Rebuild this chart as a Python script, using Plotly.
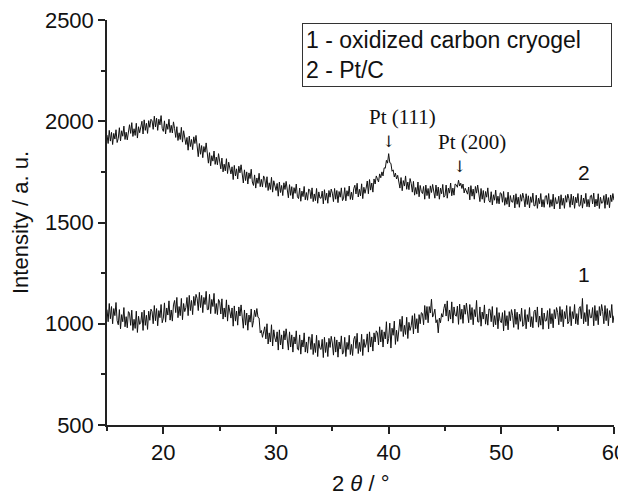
import plotly.graph_objects as go

# 2θ scan: 15.0 .. 60.0 in 0.1° steps
theta_start = 15.0
theta_step = 0.1

# Curve 2 - Pt/C (rows of 1 degree)
pt_c = [
    1932, 1890, 1955, 1902, 1945, 1885, 1940, 1912, 1958, 1895,  # 15
    1916, 1968, 1903, 1953, 1926, 1976, 1910, 1946, 1908, 1963,  # 16
    1983, 1940, 1993, 1925, 1963, 1930, 1990, 1917, 1973, 1943,  # 17
    1965, 2000, 1937, 2007, 1955, 1990, 1940, 2003, 1970, 2010,  # 18
    2002, 1960, 2025, 1972, 2015, 1955, 2010, 1982, 2028, 1965,  # 19
    1950, 2002, 1937, 1987, 1960, 2010, 1944, 1980, 1942, 1997,  # 20
    1963, 1920, 1973, 1905, 1943, 1910, 1970, 1897, 1953, 1923,  # 21
    1885, 1920, 1857, 1927, 1875, 1910, 1860, 1923, 1890, 1930,  # 22
    1867, 1825, 1890, 1837, 1880, 1820, 1875, 1847, 1893, 1830,  # 23
    1793, 1845, 1780, 1830, 1803, 1853, 1787, 1823, 1785, 1840,  # 24
    1808, 1765, 1818, 1750, 1788, 1755, 1815, 1742, 1798, 1768,  # 25
    1740, 1775, 1712, 1782, 1730, 1765, 1715, 1778, 1745, 1785,  # 26
    1737, 1695, 1760, 1707, 1750, 1690, 1745, 1717, 1763, 1700,  # 27
    1683, 1735, 1670, 1720, 1693, 1743, 1677, 1713, 1675, 1730,  # 28
    1716, 1673, 1726, 1658, 1696, 1663, 1723, 1650, 1706, 1676,  # 29
    1658, 1693, 1630, 1700, 1648, 1683, 1633, 1696, 1663, 1703,  # 30
    1664, 1622, 1687, 1634, 1677, 1617, 1672, 1644, 1690, 1627,  # 31
    1618, 1670, 1605, 1655, 1628, 1678, 1612, 1648, 1610, 1665,  # 32
    1661, 1618, 1671, 1603, 1641, 1608, 1668, 1595, 1651, 1621,  # 33
    1620, 1655, 1592, 1662, 1610, 1645, 1595, 1658, 1625, 1665,  # 34
    1645, 1603, 1668, 1615, 1658, 1598, 1653, 1625, 1671, 1608,  # 35
    1620, 1672, 1607, 1657, 1630, 1680, 1614, 1650, 1612, 1667,  # 36
    1684, 1641, 1694, 1626, 1664, 1631, 1691, 1618, 1674, 1644,  # 37
    1670, 1705, 1642, 1712, 1660, 1695, 1650, 1715, 1690, 1730,  # 38
    1716, 1700, 1740, 1721, 1750, 1730, 1770, 1768, 1807, 1793,  # 39
    1840, 1795, 1792, 1753, 1760, 1725, 1744, 1715, 1733, 1704,  # 40
    1670, 1722, 1657, 1707, 1680, 1730, 1664, 1700, 1662, 1717,  # 41
    1693, 1650, 1703, 1635, 1673, 1640, 1700, 1627, 1683, 1653,  # 42
    1643, 1678, 1615, 1685, 1633, 1668, 1618, 1681, 1648, 1688,  # 43
    1662, 1620, 1685, 1632, 1675, 1615, 1670, 1642, 1688, 1625,  # 44
    1633, 1685, 1620, 1670, 1645, 1695, 1632, 1670, 1635, 1690,  # 45
    1686, 1674, 1709, 1680, 1694, 1668, 1690, 1646, 1669, 1650,  # 46
    1640, 1675, 1612, 1682, 1630, 1665, 1615, 1678, 1645, 1685,  # 47
    1645, 1603, 1668, 1615, 1658, 1598, 1653, 1625, 1671, 1608,  # 48
    1600, 1652, 1587, 1637, 1610, 1660, 1594, 1630, 1592, 1647,  # 49
    1643, 1600, 1653, 1585, 1623, 1590, 1650, 1577, 1633, 1603,  # 50
    1600, 1635, 1572, 1642, 1590, 1625, 1575, 1638, 1605, 1645,  # 51
    1619, 1577, 1642, 1589, 1632, 1572, 1627, 1599, 1645, 1582,  # 52
    1583, 1635, 1570, 1620, 1593, 1643, 1577, 1613, 1575, 1630,  # 53
    1633, 1590, 1643, 1575, 1613, 1580, 1640, 1567, 1623, 1593,  # 54
    1595, 1630, 1567, 1637, 1585, 1620, 1570, 1633, 1600, 1640,  # 55
    1617, 1575, 1640, 1587, 1630, 1570, 1625, 1597, 1643, 1580,  # 56
    1584, 1636, 1571, 1621, 1594, 1644, 1578, 1614, 1576, 1631,  # 57
    1635, 1592, 1645, 1577, 1615, 1582, 1642, 1569, 1625, 1595,  # 58
    1598, 1633, 1570, 1640, 1588, 1623, 1573, 1636, 1603, 1643,  # 59
    1610,                                                        # 60
]

# Curve 1 - oxidized carbon cryogel
cryogel = [
    1070, 1010, 1100, 1025, 1085, 1000, 1075, 1040, 1105, 1015,  # 15
    995, 1070, 975, 1045, 1010, 1080, 985, 1035, 980, 1060,      # 16
    1052, 992, 1067, 967, 1022, 977, 1062, 957, 1037, 997,       # 17
    1007, 1057, 967, 1067, 992, 1042, 972, 1062, 1017, 1072,     # 18
    1060, 1000, 1090, 1015, 1075, 990, 1065, 1030, 1095, 1005,   # 19
    1028, 1103, 1008, 1078, 1043, 1113, 1018, 1068, 1013, 1093,  # 20
    1115, 1055, 1130, 1030, 1085, 1040, 1125, 1020, 1100, 1060,  # 21
    1080, 1130, 1040, 1140, 1065, 1115, 1045, 1135, 1090, 1145,  # 22
    1125, 1065, 1155, 1080, 1140, 1055, 1130, 1095, 1160, 1070,  # 23
    1070, 1145, 1050, 1120, 1085, 1150, 1050, 1100, 1045, 1120,  # 24
    1108, 1048, 1123, 1023, 1078, 1033, 1118, 1013, 1093, 1053,  # 25
    1028, 1078, 988, 1088, 1013, 1063, 993, 1083, 1038, 1093,    # 26
    1038, 978, 1068, 993, 1053, 968, 1043, 1008, 1073, 983,      # 27
    1015, 1067, 1035, 1075, 1032, 1028, 955, 967, 933, 968,      # 28
    985, 925, 1000, 900, 955, 910, 995, 890, 970, 930,           # 29
    910, 960, 870, 970, 895, 945, 875, 965, 920, 975,            # 30
    930, 870, 960, 885, 945, 860, 935, 900, 965, 875,            # 31
    870, 945, 850, 920, 885, 955, 860, 910, 855, 935,            # 32
    933, 873, 948, 848, 903, 858, 943, 838, 918, 878,            # 33
    873, 923, 833, 933, 858, 908, 838, 928, 883, 938,            # 34
    905, 845, 935, 860, 920, 835, 910, 875, 940, 850,            # 35
    858, 933, 838, 908, 873, 943, 848, 898, 843, 923,            # 36
    938, 878, 953, 853, 908, 863, 948, 843, 923, 883,            # 37
    900, 950, 860, 960, 885, 935, 865, 955, 910, 965,            # 38
    955, 895, 985, 910, 970, 885, 960, 925, 1010, 900,           # 39
    928, 1003, 880, 978, 943, 1013, 898, 968, 913, 993,          # 40
    1022, 962, 1037, 937, 992, 947, 1032, 927, 1007, 967,        # 41
    990, 1040, 950, 1050, 975, 1025, 955, 1045, 1000, 1055,      # 42
    1050, 995, 1090, 1020, 1085, 1005, 1085, 1053, 1121, 1033,   # 43
    1047, 1072, 1005, 1020, 955, 1028, 1005, 1050, 1033, 1076,   # 44
    1098, 1038, 1113, 1013, 1068, 1023, 1108, 1003, 1083, 1043,  # 45
    1037, 1087, 997, 1097, 1022, 1072, 1002, 1092, 1047, 1102,   # 46
    1065, 1005, 1095, 1020, 1080, 995, 1070, 1035, 1115, 1010,   # 47
    1008, 1083, 988, 1058, 1023, 1093, 998, 1048, 993, 1073,     # 48
    1070, 1010, 1085, 985, 1040, 995, 1080, 975, 1055, 1015,     # 49
    1005, 1055, 965, 1065, 990, 1040, 970, 1060, 1015, 1070,     # 50
    1042, 982, 1072, 997, 1057, 972, 1047, 1012, 1077, 987,      # 51
    995, 1070, 975, 1045, 1010, 1080, 985, 1035, 980, 1060,      # 52
    1068, 1008, 1083, 983, 1038, 993, 1078, 973, 1053, 1013,     # 53
    1015, 1065, 975, 1075, 1000, 1050, 980, 1070, 1025, 1080,    # 54
    1055, 995, 1085, 1010, 1070, 985, 1060, 1025, 1090, 1000,    # 55
    1010, 1085, 990, 1060, 1025, 1095, 1000, 1050, 995, 1075,    # 56
    1085, 1025, 1125, 1000, 1055, 1010, 1095, 990, 1070, 1030,   # 57
    1030, 1080, 990, 1090, 1015, 1065, 995, 1085, 1040, 1095,    # 58
    1060, 1000, 1090, 1015, 1075, 990, 1065, 1030, 1095, 1005,   # 59
    1040,                                                        # 60
]

two_theta = [round(theta_start + i * theta_step, 1) for i in range(len(pt_c))]

x_ticks = [20, 30, 40, 50, 60]
y_ticks = [500, 1000, 1500, 2000, 2500]
legend_lines = ["1 - oxidized carbon cryogel", "2 - Pt/C"]
peak_labels = ["Pt (111)", "Pt (200)"]
peak_positions = [40.0, 46.3]

SANS = "Liberation Sans, Arial, sans-serif"
SERIF = "Liberation Serif, Times New Roman, serif"
ARROW = "DejaVu Serif, DejaVu Sans, serif"
INK = "#111111"

fig = go.Figure()
fig.add_trace(go.Scatter(x=two_theta, y=cryogel, mode="lines",
                         line=dict(color=INK, width=1), showlegend=False))
fig.add_trace(go.Scatter(x=two_theta, y=pt_c, mode="lines",
                         line=dict(color=INK, width=1), showlegend=False))

axis_common = dict(showline=True, linecolor="#222222", linewidth=1.5,
                   ticks="outside", ticklen=7, tickwidth=1.5, tickcolor="#222222",
                   showgrid=False, zeroline=False, mirror=False, automargin=False,
                   ticklabeloverflow="allow",
                   tickfont=dict(family=SANS, size=22, color=INK))

fig.update_xaxes(range=[15, 60], tickvals=x_ticks,
                 minor=dict(ticks="outside", ticklen=4, tickwidth=1.5,
                            tickcolor="#222222", dtick=5, showgrid=False),
                 **axis_common)
fig.update_yaxes(range=[500, 2500], tickvals=y_ticks,
                 minor=dict(ticks="outside", ticklen=4, tickwidth=1.5,
                            tickcolor="#222222", dtick=250, showgrid=False),
                 title=dict(text="Intensity / a. u.",
                            font=dict(family=SANS, size=22, color=INK),
                            standoff=12),
                 **axis_common)

annotations = [
    dict(text="<br>".join(legend_lines), xref="paper", yref="paper",
         x=0.385, y=0.993, xanchor="left", yanchor="top", align="left",
         showarrow=False, bordercolor="#333333", borderwidth=1, borderpad=3,
         width=302, font=dict(family=SANS, size=23, color=INK)),
    dict(text="2 <i>θ</i> / °", xref="paper", yref="paper", x=0.5, y=-0.18,
         xanchor="center", yanchor="bottom", showarrow=False,
         font=dict(family=SANS, size=22, color=INK)),
    # peak labels
    dict(text=peak_labels[0], x=41.2, y=2020, showarrow=False,
         font=dict(family=SERIF, size=21, color=INK)),
    dict(text="↓", x=peak_positions[0], y=1898, showarrow=False,
         font=dict(family=ARROW, size=16, color=INK)),
    dict(text=peak_labels[1], x=47.4, y=1900, showarrow=False,
         font=dict(family=SERIF, size=21, color=INK)),
    dict(text="↓", x=peak_positions[1], y=1778, showarrow=False,
         font=dict(family=ARROW, size=16, color=INK)),
    # curve numbers
    dict(text="2", x=57.3, y=1747, showarrow=False,
         font=dict(family=SANS, size=21, color=INK)),
    dict(text="1", x=57.3, y=1243, showarrow=False,
         font=dict(family=SANS, size=21, color=INK)),
]

# the page body adds an 8 px offset; margins compensate so the plot area
# lands at x 107..614, y 20..425 in the window
fig.update_layout(width=626, height=499,
                  margin=dict(l=99, r=20, t=12, b=82),
                  paper_bgcolor="white", plot_bgcolor="white",
                  annotations=annotations)

fig.write_html("out.html")
